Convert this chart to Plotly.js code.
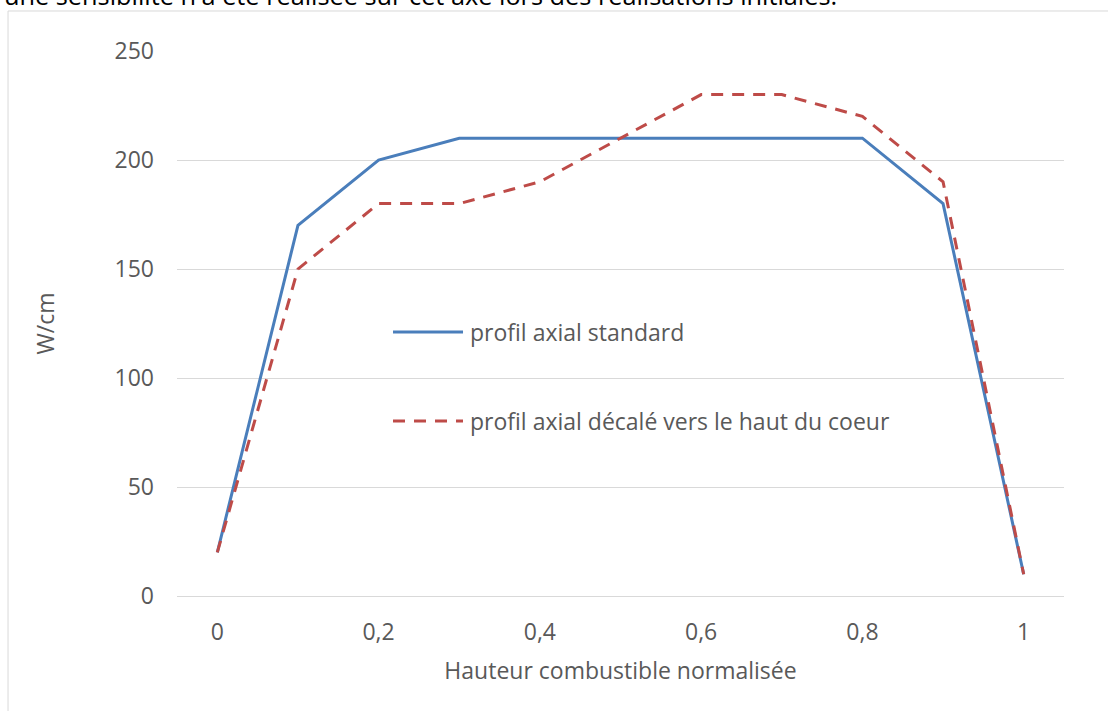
<!DOCTYPE html>
<html><head><meta charset="utf-8">
<script src="https://cdn.plot.ly/plotly-3.0.1.min.js"></script>
<style>html,body{margin:0;padding:0;background:#fff;overflow:hidden}#chart{width:1108px;height:711px}</style>
</head><body><div id="chart"></div>
<script>
const hauteur = [0, 0.1, 0.2, 0.3, 0.4, 0.5, 0.6, 0.7, 0.8, 0.9, 1];
const profilStandard = [20, 170, 200, 210, 210, 210, 210, 210, 210, 180, 10];
const profilDecale = [20, 150, 180, 180, 190, 210, 230, 230, 220, 190, 10];
const seriesNames = ["profil axial standard", "profil axial décalé vers le haut du coeur"];
const xTickVals = [0, 0.2, 0.4, 0.6, 0.8, 1];
const xTickText = ["0", "0,2", "0,4", "0,6", "0,8", "1"];
const yTickVals = [0, 50, 100, 150, 200, 250];
const yTickText = ["0", "50", "100", "150", "200", "250"];
const xTitle = "Hauteur combustible normalisée";
const yTitle = "W/cm";
const topText = "une sensibilité n'a été réalisée sur cet axe lors des réalisations initiales.";

const FONT = "Open Sans, Noto Sans, sans-serif";
const GREY = "#595959";

const traces = [
  {x: hauteur, y: profilStandard, name: seriesNames[0], type: "scatter", mode: "lines",
   line: {color: "#4a7ebb", width: 3}, legend: "legend"},
  {x: hauteur, y: profilDecale, name: seriesNames[1], type: "scatter", mode: "lines",
   line: {color: "#be4b48", width: 3, dash: "12px,9px"}, legend: "legend2"}
];

const legendBase = {
  bgcolor: "rgba(0,0,0,0)", borderwidth: 0,
  font: {family: FONT, size: 23, color: GREY},
  xanchor: "left", yanchor: "middle", itemwidth: 72
};

const layout = {
  width: 1108, height: 711, autosize: false,
  margin: {l: 177, r: 44, t: 51, b: 115, pad: 0},
  paper_bgcolor: "#ffffff", plot_bgcolor: "#ffffff",
  showlegend: true,
  legend: Object.assign({}, legendBase, {x: 0.2379, y: 0.4844}),
  legend2: Object.assign({}, legendBase, {x: 0.2379, y: 0.3211}),
  xaxis: {
    range: [-0.05, 1.05], tickvals: xTickVals, ticktext: xTickText,
    showgrid: false, zeroline: false, showline: true, linecolor: "#d9d9d9", linewidth: 1,
    ticks: "", ticklabelstandoff: 15,
    tickfont: {family: FONT, size: 23, color: GREY},
    title: {text: xTitle, font: {family: FONT, size: 23, color: GREY}, standoff: 17},
    automargin: false, fixedrange: true
  },
  yaxis: {
    range: [0, 250], tickvals: yTickVals, ticktext: yTickText,
    showgrid: true, gridcolor: "#d9d9d9", gridwidth: 1, zeroline: false, showline: false,
    ticks: "", ticklabelstandoff: 22,
    tickfont: {family: FONT, size: 23, color: GREY},
    title: {text: yTitle, font: {family: FONT, size: 23, color: GREY}, standoff: 53},
    automargin: false, fixedrange: true
  },
  shapes: [
    {type: "rect", xref: "paper", yref: "paper", x0: -0.1905, x1: 1.2, y0: -0.5, y1: 1.0734,
     line: {color: "#d9d9d9", width: 1}, fillcolor: "rgba(0,0,0,0)", layer: "below"}
  ],
  annotations: [
    {text: topText, xref: "paper", yref: "paper", x: -0.1973, y: 1.1035,
     xanchor: "left", yanchor: "middle", showarrow: false,
     font: {family: FONT, size: 25.3, color: "#000000"}}
  ]
};

Plotly.newPlot("chart", traces, layout, {displayModeBar: false, staticPlot: true}).then(function () {
  document.querySelectorAll(".legendlines path").forEach(function (p) {
    p.setAttribute("d", "M5,0h70");
  });
});
</script>
</body></html>
